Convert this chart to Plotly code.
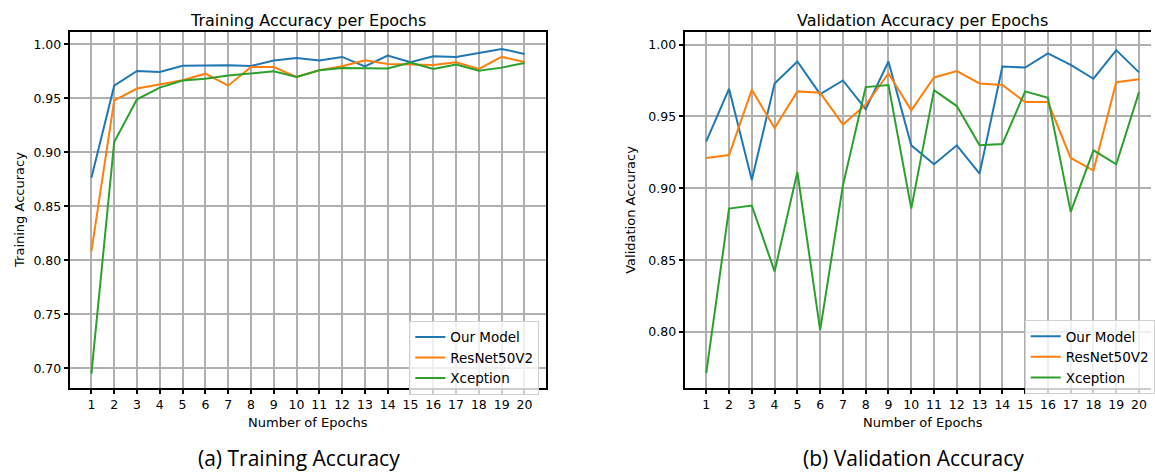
import plotly.graph_objects as go

epochs = list(range(1, 21))

train_ours = [0.8765, 0.9617, 0.9753, 0.9744, 0.9802, 0.9806, 0.9806, 0.9800, 0.9849, 0.9873,
              0.9849, 0.9883, 0.9796, 0.9895, 0.9833, 0.9889, 0.9883, 0.9920, 0.9957, 0.9910]
train_resnet = [0.8083, 0.9481, 0.9590, 0.9630, 0.9667, 0.9728, 0.9617, 0.9790, 0.9790, 0.9698,
                0.9760, 0.9796, 0.9852, 0.9818, 0.9812, 0.9809, 0.9833, 0.9772, 0.9883, 0.9836]
train_xception = [0.6948, 0.9096, 0.9491, 0.9599, 0.9664, 0.9682, 0.9710, 0.9728, 0.9750, 0.9698,
                  0.9760, 0.9781, 0.9775, 0.9775, 0.9830, 0.9772, 0.9812, 0.9756, 0.9784, 0.9827]

val_ours = [0.9326, 0.9692, 0.9058, 0.9729, 0.9882, 0.9655, 0.9750, 0.9551, 0.9882, 0.9299,
            0.9167, 0.9299, 0.9102, 0.9847, 0.9840, 0.9938, 0.9859, 0.9762, 0.9961, 0.9806]
val_resnet = [0.9211, 0.9231, 0.9685, 0.9419, 0.9674, 0.9664, 0.9444, 0.9581, 0.9799, 0.9542,
              0.9771, 0.9815, 0.9729, 0.9718, 0.9600, 0.9600, 0.9211, 0.9123, 0.9738, 0.9759]
val_xception = [0.7714, 0.8859, 0.8880, 0.8422, 0.9113, 0.8014, 0.9020, 0.9704, 0.9718, 0.8859,
                0.9683, 0.9572, 0.9299, 0.9308, 0.9674, 0.9630, 0.8836, 0.9264, 0.9167, 0.9669]

series_names = ["Our Model", "ResNet50V2", "Xception"]
colors = ["#1f77b4", "#ff7f0e", "#2ca02c"]

W, H = 1155, 472
FONT = "DejaVu Sans"
TICKF = 12.5

fig = go.Figure()

for name, ys, c in zip(series_names, [train_ours, train_resnet, train_xception], colors):
    fig.add_trace(go.Scatter(x=epochs, y=ys, mode="lines", name=name,
                             line=dict(color=c, width=2), xaxis="x", yaxis="y",
                             legend="legend"))
for name, ys, c in zip(series_names, [val_ours, val_resnet, val_xception], colors):
    fig.add_trace(go.Scatter(x=epochs, y=ys, mode="lines", name=name,
                             line=dict(color=c, width=2), xaxis="x2", yaxis="y2",
                             legend="legend2"))

def px(x):
    return x / W

def py(y):
    return 1 - y / H

ydom = [py(388.3), py(32.3)]

common_axis = dict(showgrid=True, gridcolor="#b0b0b0", gridwidth=1.5, zeroline=False,
                   showline=True, linecolor="black", linewidth=2,
                   ticks="outside", ticklen=4, tickwidth=1.5, tickcolor="black",
                   tickfont=dict(family=FONT, size=TICKF, color="black"))

fig.update_layout(
    width=W, height=H,
    margin=dict(l=0, r=0, t=0, b=0),
    paper_bgcolor="white", plot_bgcolor="white",
    font=dict(family=FONT, color="black"),
    xaxis=dict(domain=[px(70), px(548)], range=[0.05, 20.95], tickvals=epochs,
               anchor="y", mirror=True, **common_axis),
    yaxis=dict(domain=ydom, range=[0.6815, 1.0111], tick0=0.7, dtick=0.05,
               tickformat=".2f", anchor="x", mirror=True, **common_axis),
    xaxis2=dict(domain=[px(687), 1.0], range=[0.05, 20.0 + (1155 - 1143) / 22.84],
                tickvals=epochs, anchor="y2", mirror=True, **common_axis),
    yaxis2=dict(domain=ydom, range=[0.7609, 1.0085], tick0=0.8, dtick=0.05,
                tickformat=".2f", anchor="x2", mirror=False, **common_axis),
    legend=dict(x=px(410.7), y=py(320.7), xanchor="left", yanchor="top",
                bgcolor="rgba(255,255,255,0.8)", bordercolor="#d0d0d0", borderwidth=1,
                font=dict(family=FONT, size=13.5, color="black")),
    legend2=dict(x=px(1028.3), y=py(320.0), xanchor="left", yanchor="top",
                 bgcolor="rgba(255,255,255,0.8)", bordercolor="#d0d0d0", borderwidth=1,
                 font=dict(family=FONT, size=13.5, color="black")),
)

annotations = [
    dict(text="Training Accuracy per Epochs", x=px(309), y=py(20), xref="paper", yref="paper",
         showarrow=False, font=dict(family=FONT, size=16, color="black"),
         xanchor="center", yanchor="middle"),
    dict(text="Validation Accuracy per Epochs", x=px(926), y=py(20), xref="paper", yref="paper",
         showarrow=False, font=dict(family=FONT, size=16, color="black"),
         xanchor="center", yanchor="middle"),
    dict(text="Number of Epochs", x=px(309), y=py(422), xref="paper", yref="paper",
         showarrow=False, font=dict(family=FONT, size=13, color="black"),
         xanchor="center", yanchor="middle"),
    dict(text="Number of Epochs", x=px(926), y=py(422), xref="paper", yref="paper",
         showarrow=False, font=dict(family=FONT, size=13, color="black"),
         xanchor="center", yanchor="middle"),
    dict(text="Training Accuracy", x=px(20), y=py(210), xref="paper", yref="paper",
         showarrow=False, textangle=-90, font=dict(family=FONT, size=13, color="black"),
         xanchor="center", yanchor="middle"),
    dict(text="Validation Accuracy", x=px(633), y=py(210), xref="paper", yref="paper",
         showarrow=False, textangle=-90, font=dict(family=FONT, size=13, color="black"),
         xanchor="center", yanchor="middle"),
    dict(text="(a) Training Accuracy", x=px(300), y=py(458), xref="paper", yref="paper",
         showarrow=False, font=dict(family="Open Sans", size=21, color="black"),
         xanchor="center", yanchor="middle"),
    dict(text="(b) Validation Accuracy", x=px(917), y=py(458), xref="paper", yref="paper",
         showarrow=False, font=dict(family="Open Sans", size=21, color="black"),
         xanchor="center", yanchor="middle"),
]
fig.update_layout(annotations=annotations)

fig.write_html("out.html", config={"displayModeBar": False},
               post_script="document.body.style.margin='0';document.body.style.overflow='hidden';")
